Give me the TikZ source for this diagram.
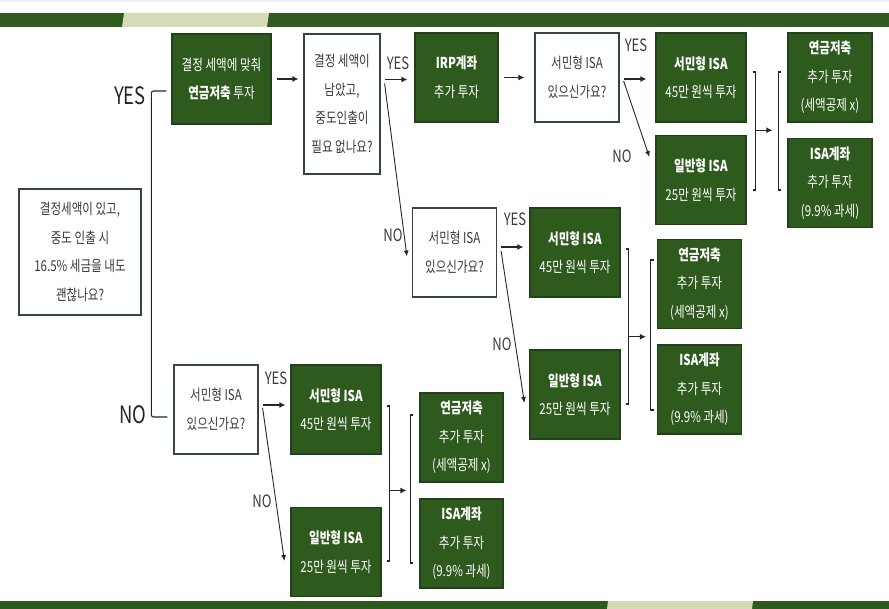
\documentclass[tikz,border=0pt]{standalone}
\usepackage{fontspec}
\setmainfont{Noto Sans CJK KR}[FakeStretch=0.77]
\usepackage{tikz}
\usetikzlibrary{arrows.meta, positioning, calc}
\definecolor{mygreen}{HTML}{2F5A1E}
\definecolor{mydarkgreen}{HTML}{22401A}
\definecolor{mylight}{HTML}{D6DAB8}
\definecolor{myslate}{HTML}{34434C}
\definecolor{mytext}{HTML}{3A3A3A}
\tikzset{
  >=Latex,
  % caselle
  qbox/.style={draw=myslate,line width=1.2pt,fill=white,text=mytext,align=center,
    minimum width=84pt,minimum height=89pt,inner sep=2pt,font=\fontsize{15}{28.5}\selectfont},
  gbox/.style={qbox,draw=mydarkgreen,fill=mygreen,text=white},
  % etichette
  lbl/.style={text=mytext,inner sep=0pt,font=\fontsize{17}{17}\selectfont},
  biglbl/.style={text=black!85,inner sep=0pt,font=\fontsize{24}{24}\selectfont},
  % connessioni
  arr/.style={-{Latex[length=6pt,width=6pt]},line width=1.3pt,black!85},
  arrthin/.style={-{Latex[length=6pt,width=5pt]},line width=0.9pt,black!85},
  brk/.style={line width=1.1pt,black!85}
}

\begin{document}
\begin{tikzpicture}[x=1pt, y=-1pt]
    \useasboundingbox (0,0) rectangle (889,609);
    % bande
    \fill[black!6] (0,0) rectangle (889,2);
    \fill[mygreen] (0,13) rectangle (889,27);
    \fill[mylight] (124,13) -- (269,13) -- (267,27) -- (122,27) -- cycle;
    \fill[mygreen] (0,601) rectangle (889,609);
    \fill[mylight] (608,601) -- (753,601) -- (752,609) -- (607,609) -- cycle;

    \node[qbox, minimum width=122pt, minimum height=126pt] (start) at (80,252) {결정세액이 있고,\\중도 인출 시\\16.5\% 세금을 내도\\괜찮나요?};
    \node[biglbl] (yes0) at (130,96) {YES};
    \node[biglbl] (no0) at (133,415) {NO};

    % ramo YES
    \node[gbox, minimum width=99pt, minimum height=90pt] (g1) at (221.5,79) {결정 세액에 맞춰\\\textbf{연금저축} 투자};
    \node[qbox, minimum width=76pt, minimum height=140pt] (q2) at (342,104) {결정 세액이\\남았고,\\중도인출이\\필요 없나요?};
    \node[gbox, minimum width=83pt] (irp) at (456.5,77.5) {\textbf{IRP계좌}\\추가 투자};
    \node[qbox] (q3) at (577,77.5) {서민형 ISA\\있으신가요?};
    \node[gbox, minimum width=90pt] (a1) at (701,77.5) {\textbf{서민형 ISA}\\45만 원씩 투자};
    \node[gbox, minimum width=90pt] (b1) at (701,180) {\textbf{일반형 ISA}\\25만 원씩 투자};
    \node[gbox] (p1) at (830,77.5) {\textbf{연금저축}\\추가 투자\\(세액공제 x)};
    \node[gbox] (i1) at (830,183) {\textbf{ISA계좌}\\추가 투자\\(9.9\% 과세)};

    \node[qbox] (q4) at (454.5,252.5) {서민형 ISA\\있으신가요?};
    \node[gbox, minimum width=90pt] (a2) at (575,252.5) {\textbf{서민형 ISA}\\45만 원씩 투자};
    \node[gbox, minimum width=90pt] (b2) at (575,394.5) {\textbf{일반형 ISA}\\25만 원씩 투자};
    \node[gbox] (p2) at (699.5,284) {\textbf{연금저축}\\추가 투자\\(세액공제 x)};
    \node[gbox] (i2) at (699.5,389.5) {\textbf{ISA계좌}\\추가 투자\\(9.9\% 과세)};

    % ramo NO
    \node[qbox] (q5) at (216,409.5) {서민형 ISA\\있으신가요?};
    \node[gbox, minimum width=90pt] (a3) at (336,409.5) {\textbf{서민형 ISA}\\45만 원씩 투자};
    \node[gbox, minimum width=90pt] (b3) at (336,552) {\textbf{일반형 ISA}\\25만 원씩 투자};
    \node[gbox, minimum width=83pt] (p3) at (461.5,437.5) {\textbf{연금저축}\\추가 투자\\(세액공제 x)};
    \node[gbox, minimum width=83pt] (i3) at (461.5,543.5) {\textbf{ISA계좌}\\추가 투자\\(9.9\% 과세)};

    % parentesi iniziale
    \draw[brk, rounded corners=2pt] (g1.west) ++(-5,12) -- ++(-15,0) |- ($(q5.west)+(-6,7.5)$);

    % frecce
    \draw[arr, shorten <=5pt, shorten >=5pt] (g1.east) -- (g1.east -| q2.west);
    \coordinate (s2) at ($(q2.east |- irp.west)+(4,2)$);
    \draw[arr, shorten >=7pt] (s2) -- (s2 -| irp.west);
    \draw[arrthin] ($(s2)+(0,4)$) -- ($(q4.west)+(-5,4)$);
    \node[lbl] (yes2) at (398,63) {YES};
    \node[lbl] (no2) at (393,235) {NO};

    \draw[arr, shorten <=5pt, shorten >=10pt] (irp.east) -- (irp.east -| q3.west);
    \coordinate (s3) at ($(q3.east)+(4,1.5)$);
    \draw[arr, shorten >=9pt] (s3) -- (s3 -| a1.west);
    \draw[arrthin] ($(s3)+(0,2)$) -- ($(b1.west)+(-6,-23)$);
    \node[lbl] (yes3) at (636,45) {YES};
    \node[lbl] (no3) at (622,156) {NO};

    \coordinate (s4) at ($(q4.east)+(4,-5.5)$);
    \draw[arr, shorten >=6pt] (s4) -- (s4 -| a2.west);
    \draw[arrthin] ($(s4)+(0,4)$) -- ($(b2.west)+(-5,8.5)$);
    \node[lbl] (yes4) at (515,219) {YES};
    \node[lbl] (no4) at (502,344) {NO};

    \coordinate (s5) at ($(q5.east)+(4,-4.5)$);
    \draw[arr, shorten >=5pt] (s5) -- (s5 -| a3.west);
    \draw[arrthin] ($(s5)+(0,3)$) -- ($(b3.west)+(-6,9)$);
    \node[lbl] (yes5) at (276,378) {YES};
    \node[lbl] (no5) at (262,501) {NO};

    % parentesi e frecce di raccordo
    \draw[brk] ($(a1.east)+(6,-5.5)$) -- ++(3,0) |- ($(b1.east)+(6,10)$);
    \draw[brk] ($(p1.west)+(-6,-5.5)$) -- ++(-3,0) |- ($(i1.west)+(-6,7)$);
    \coordinate (r1) at ($(a1.east)+(9,0)$);
    \coordinate (l1) at ($(p1.west)!0.5!(i1.west)+(-9,0)$);
    \draw[arr, shorten >=6pt] (r1 |- l1) -- (l1);

    \draw[brk] ($(a2.east)+(5,-3.5)$) -- ++(3,0) |- ($(b2.east)+(5,9.5)$);
    \draw[brk] ($(p2.west)+(-3,-24)$) -- ++(-3,0) |- ($(i2.west)+(-3,20.5)$);
    \coordinate (r2) at ($(a2.east)+(8,0)$);
    \coordinate (l2) at ($(p2.west)!0.5!(i2.west)+(-6,0)$);
    \draw[arr, shorten >=5pt] (r2 |- l2) -- (l2);

    \draw[brk] ($(a3.east)+(5,-3.5)$) -- ++(3,0) |- ($(b3.east)+(5,9)$);
    \draw[brk] ($(p3.west)+(-6,-22.5)$) -- ++(-3,0) |- ($(i3.west)+(-6,19.5)$);
    \coordinate (r3) at ($(a3.east)+(8,0)$);
    \coordinate (l3) at ($(p3.west)!0.5!(i3.west)+(-9,0)$);
    \draw[arr, shorten >=4pt] (r3 |- l3) -- (l3);
\end{tikzpicture}
\end{document}
